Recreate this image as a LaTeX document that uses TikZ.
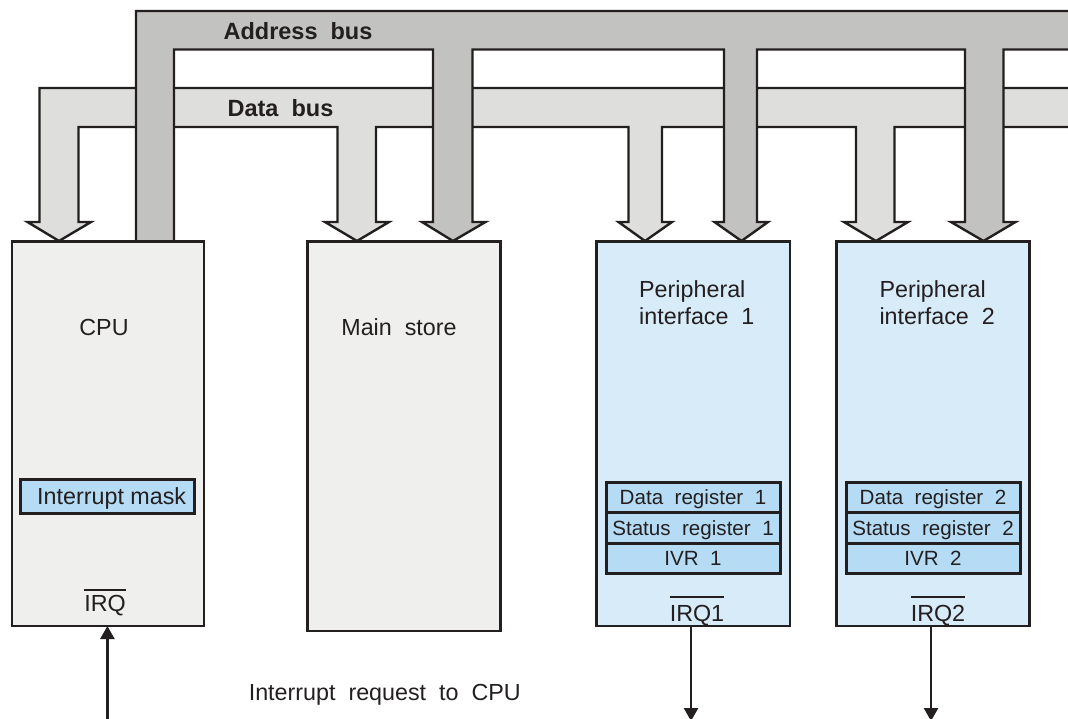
\documentclass[tikz,border=0pt]{standalone}
\usepackage{fontspec}
\setmainfont{Liberation Sans}
\usetikzlibrary{arrows.meta}
\definecolor{ink}{HTML}{231F20}
\definecolor{abus}{HTML}{C2C2C0}
\definecolor{dbus}{HTML}{DEDEDC}
\definecolor{grayfill}{HTML}{EFEFEE}
\definecolor{bluefill}{HTML}{D7EBF8}
\definecolor{regfill}{HTML}{B5DCF4}
\newcommand\ovlbar[2]{\vbox{\hrule height 1.6pt\kern #1\hbox{#2}}}
\begin{document}
\begin{tikzpicture}[x=1pt,y=-1pt,
  box/.style={draw=ink,line width=2.7pt,inner sep=0pt,outer sep=0pt,anchor=north west},
  regbox/.style={draw=ink,fill=regfill,line width=3pt,inner sep=0pt,outer sep=0pt,
    minimum width=174pt,anchor=north west,text=ink,text depth=0pt},
  bus/.style={draw=ink,line width=2.4pt,line join=miter},
  lbl/.style={text=ink,inner sep=0pt,anchor=base,font=\fontsize{23.3}{27}\selectfont},
  reglbl/.style={font=\fontsize{20.6}{24}\selectfont,text height=14.8pt,minimum height=30.5pt},
  buslbl/.style={text=ink,inner sep=0pt,anchor=base,font=\bfseries\fontsize{23.5}{27}\selectfont},
  sig/.style={draw=ink,line width=2.5pt,-{Triangle[width=14pt,length=13pt]}}]
\useasboundingbox (0,0) rectangle (1068,719);
\clip (0,0) rectangle (1068,719);

% data bus
\path[bus,fill=dbus] (59,241) -- (91,222) -- (78.5,222) -- (78.5,127) -- (337.5,127) -- (337.5,222) -- (325,222) -- (357,241) -- (389,222) -- (376,222) -- (376,127) -- (628.5,127) -- (628.5,222) -- (618.5,222) -- (645,241) -- (672,222) -- (662,222) -- (662,127) -- (856,127) -- (856,222) -- (844,222) -- (876,241) -- (908,222) -- (894.5,222) -- (894.5,127) -- (1080,127) -- (1080,88) -- (39.5,88) -- (39.5,222) -- (27.5,222) -- cycle;

% address bus
\path[bus,fill=abus] (136,241.5) -- (136,11) -- (1080,11) -- (1080,49.5) -- (1003.5,49.5) -- (1003.5,222) -- (1015.5,222) -- (983.5,241) -- (951,222) -- (965,222) -- (965,49.5) -- (757,49.5) -- (757,222) -- (768,222) -- (741.5,241) -- (714.5,222) -- (724,222) -- (724,49.5) -- (472.5,49.5) -- (472.5,222) -- (485.5,222) -- (453,241) -- (422,222) -- (433,222) -- (433,49.5) -- (174,49.5) -- (174,241.5) -- cycle;

\node[buslbl] (abuslbl) at (298,40) {Address\ \ bus};
\node[buslbl] (dbuslbl) at (280.5,116.7) {Data\ \ bus};

% units
\node[box,fill=grayfill,minimum width=192pt,minimum height=384.5pt] (cpu) at (12,241.5) {};
\node[box,fill=grayfill,minimum width=193pt,minimum height=389.5pt] (mem) at (307.5,241.5) {};
\node[box,fill=bluefill,minimum width=193.5pt,minimum height=384.5pt] (pi1) at (596.5,241.5) {};
\node[box,fill=bluefill,minimum width=193pt,minimum height=384.5pt] (pi2) at (836.5,241.5) {};

\node[lbl] (cpulbl) at (104,335) {CPU};
\node[lbl] (memlbl) at (399,335) {Main\ \ store};
\node[lbl,anchor=base west] (pi1a) at (639,297.7) {Peripheral};
\node[lbl,anchor=base west] (pi1b) at (639,324.3) {interface\ \ 1};
\node[lbl,anchor=base west] (pi2a) at (879.3,297.7) {Peripheral};
\node[lbl,anchor=base west] (pi2b) at (879.3,324.3) {interface\ \ 2};

% interrupt mask
\node[regbox,minimum height=34pt,text height=16pt,font=\fontsize{23.3}{27}\selectfont] (mask) at (20.7,479) {\hspace{8pt}Interrupt mask};

% registers PI1
\node[regbox,reglbl] (dr1) at (606,482) {Data\ \ register\ \ 1};
\node[regbox,reglbl] (sr1) at (606,512.5) {Status\ \ register\ \ 1};
\node[regbox,reglbl] (ivr1) at (606,543) {IVR\ \ 1};
% registers PI2
\node[regbox,reglbl] (dr2) at (846,482) {Data\ \ register\ \ 2};
\node[regbox,reglbl] (sr2) at (846,512.5) {Status\ \ register\ \ 2};
\node[regbox,reglbl] (ivr2) at (846,543) {IVR\ \ 2};

% IRQ labels
\node[lbl] (irq0) at (105,611.7) {\ovlbar{4.5pt}{IRQ}};
\node[lbl] (irq1) at (697,621.7) {\ovlbar{7.5pt}{IRQ1}};
\node[lbl] (irq2) at (938,621.7) {\ovlbar{7.5pt}{IRQ2}};

% interrupt lines
\coordinate (cpuin) at (107.4,722);
\draw[sig] (cpuin) -- (cpuin |- cpu.south);
\coordinate (out1) at (691,721);
\draw[sig] (pi1.south -| out1) -- (out1);
\coordinate (out2) at (931,721);
\draw[sig] (pi2.south -| out2) -- (out2);

\node[lbl,anchor=base west] (reqlbl) at (248.6,700) {Interrupt\ \ request\ \ to\ \ CPU};
\end{tikzpicture}
\end{document}
